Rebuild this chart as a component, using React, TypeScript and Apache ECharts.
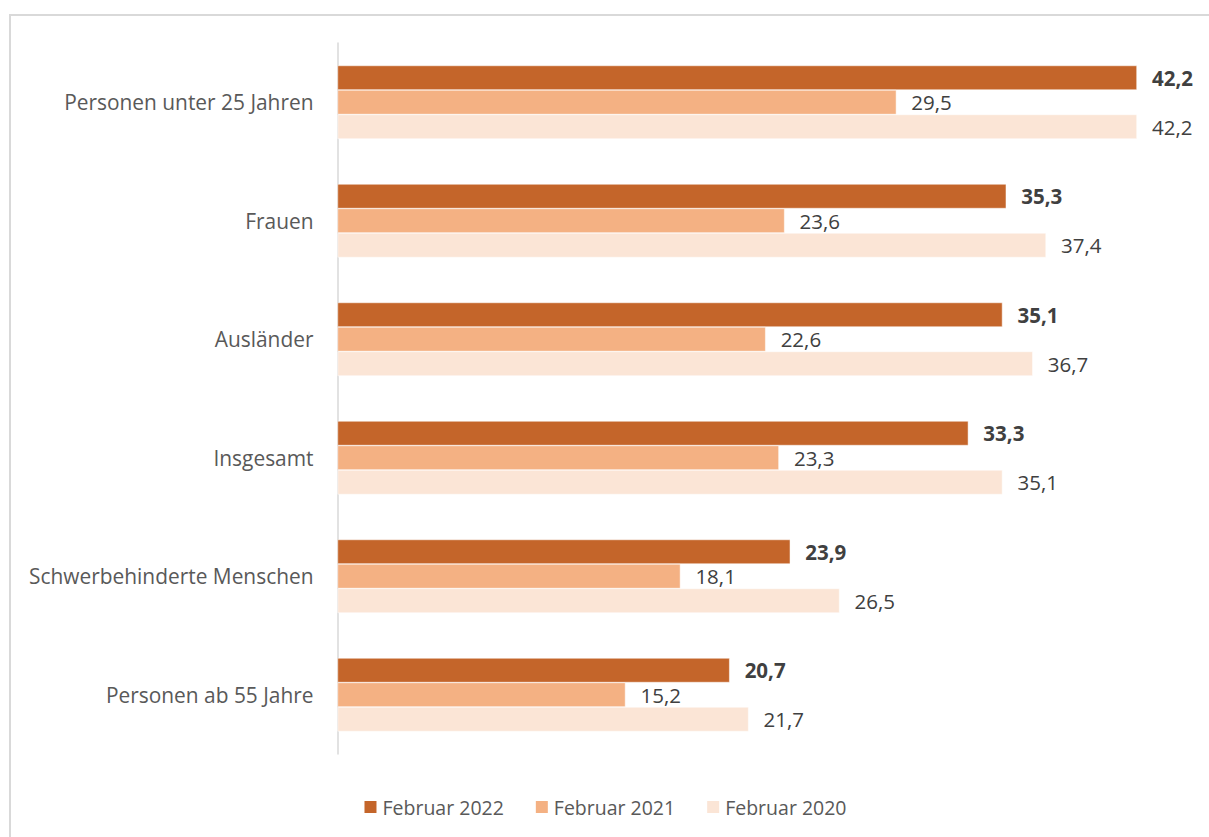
import React, { useEffect, useRef } from "react";
import * as echarts from "echarts";

const categories = [
  "Personen unter 25 Jahren",
  "Frauen",
  "Ausländer",
  "Insgesamt",
  "Schwerbehinderte Menschen",
  "Personen ab 55 Jahre",
];
const seriesNames = ["Februar 2022", "Februar 2021", "Februar 2020"];
const feb2022 = [42.2, 35.3, 35.1, 33.3, 23.9, 20.7];
const feb2021 = [29.5, 23.6, 22.6, 23.3, 18.1, 15.2];
const feb2020 = [42.2, 37.4, 36.7, 35.1, 26.5, 21.7];
const colors = ["#C4652A", "#F4B183", "#FBE5D6"];

const FONT = "'Open Sans', sans-serif";
const fmt = (p: any) => Number(p.value).toFixed(1).replace(".", ",");

export default function App() {
  const ref = useRef<HTMLDivElement>(null);
  useEffect(() => {
    if (!ref.current) return;
    const chart = echarts.init(ref.current, null, { renderer: "svg" });
    const data = [feb2022, feb2021, feb2020];
    chart.setOption({
      animation: false,
      backgroundColor: "#ffffff",
      textStyle: { fontFamily: FONT },
      graphic: [
        {
          type: "rect",
          shape: { x: 10, y: 15, width: 1300, height: 900 },
          style: { fill: "none", stroke: "#D9D9D9", lineWidth: 2 },
          silent: true,
        },
      ],
      grid: { left: 337.5, top: 43, width: 852.5, height: 711 },
      legend: {
        data: seriesNames,
        top: 792,
        left: "center",
        itemWidth: 14,
        itemHeight: 14,
        itemGap: 30,
        icon: "rect",
        textStyle: { color: "#595959", fontSize: 19.5, fontFamily: FONT },
      },
      xAxis: {
        type: "value",
        min: 0,
        max: 45,
        show: false,
        splitLine: { show: false },
      },
      yAxis: {
        type: "category",
        data: categories,
        inverse: true,
        axisLine: { show: true, lineStyle: { color: "#D9D9D9", width: 1.5 } },
        axisTick: { show: false },
        axisLabel: { color: "#595959", fontSize: 20.9, margin: 24, fontFamily: FONT },
      },
      series: seriesNames.map((name, i) => ({
        name,
        type: "bar",
        data: data[i],
        barGap: "0%",
        barCategoryGap: "38%",
        itemStyle: { color: colors[i], borderColor: "#ffffff", borderWidth: 0.5 },
        label: {
          show: true,
          position: "right",
          distance: 15,
          formatter: fmt,
          color: "#404040",
          fontSize: 20.5,
          fontFamily: FONT,
          fontWeight: i === 0 ? "bold" : "normal",
        },
      })),
    });
    return () => chart.dispose();
  }, []);
  return (
    <div
      ref={ref}
      style={{ position: "fixed", left: 0, top: 0, width: 1209, height: 837 }}
    />
  );
}
